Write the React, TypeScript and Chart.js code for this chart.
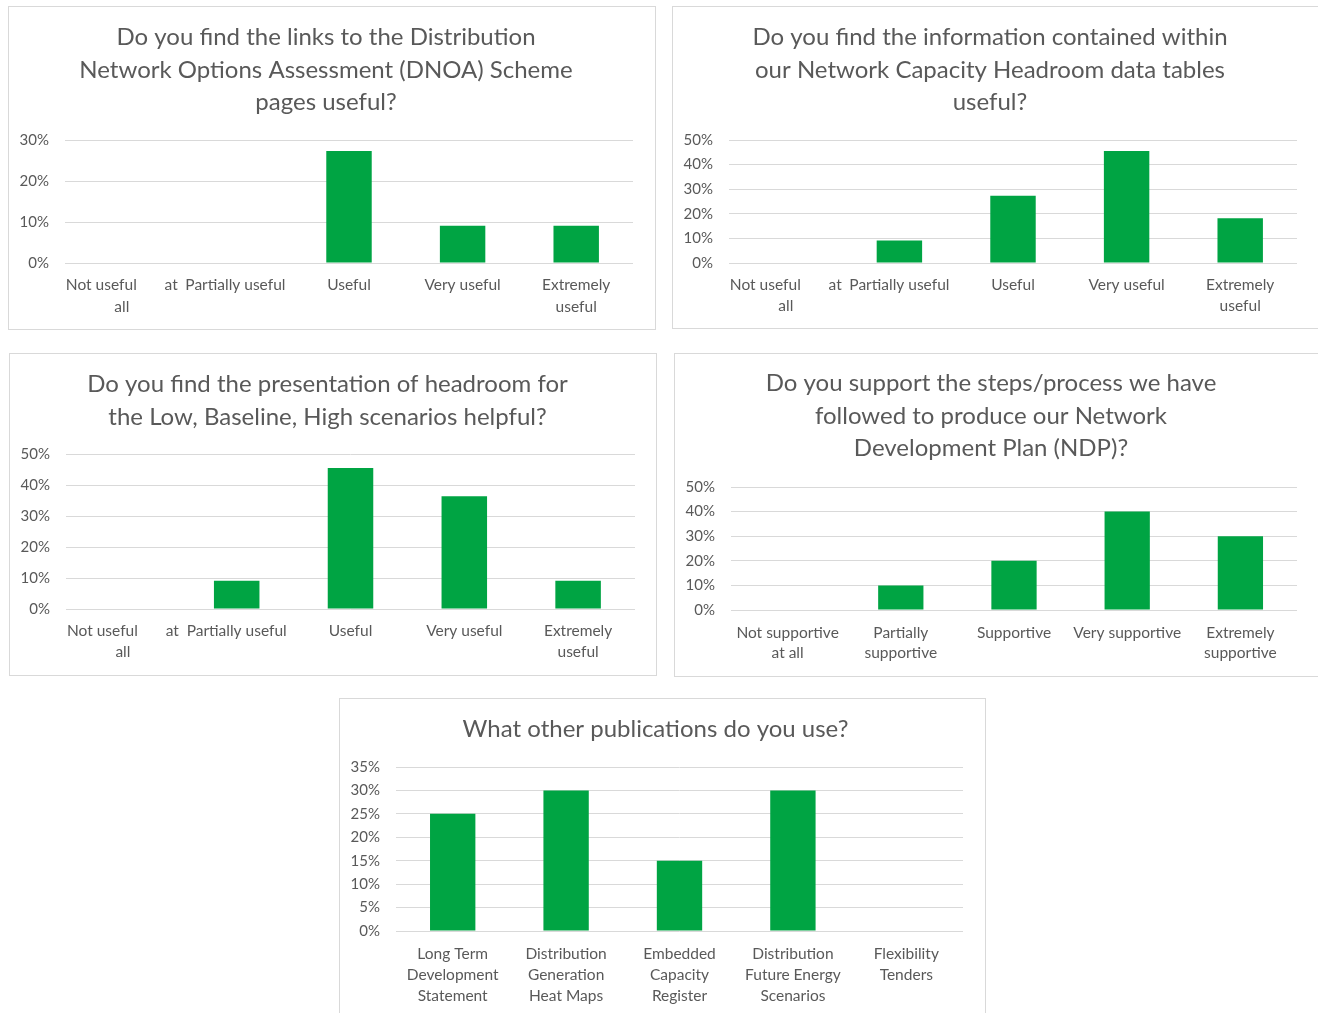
import React, { useEffect, useRef } from "react";
import { Chart, registerables } from "chart.js";

Chart.register(...registerables);

// ---------- data ----------
const usefulLabels: (string | string[])[] = [
  ["Not useful       at", "all"],
  "Partially useful",
  "Useful",
  "Very useful",
  ["Extremely", "useful"],
];
const supportLabels: (string | string[])[] = [
  ["Not supportive", "at all"],
  ["Partially", "supportive"],
  "Supportive",
  "Very supportive",
  ["Extremely", "supportive"],
];
const publicationLabels: (string | string[])[] = [
  ["Long Term", "Development", "Statement"],
  ["Distribution", "Generation", "Heat Maps"],
  ["Embedded", "Capacity", "Register"],
  ["Distribution", "Future Energy", "Scenarios"],
  ["Flexibility", "Tenders"],
];

const dnoaValues = [0, 0, 27.3, 9.1, 9.1];
const headroomTableValues = [0, 9.1, 27.3, 45.5, 18.2];
const scenarioValues = [0, 9.1, 45.5, 36.4, 9.1];
const ndpValues = [0, 10, 20, 40, 30];
const publicationValues = [25, 30, 15, 30, 0];

const dnoaTitle = [
  "Do you find the links to the Distribution",
  "Network Options Assessment (DNOA) Scheme",
  "pages useful?",
];
const headroomTableTitle = [
  "Do you find the information contained within",
  "our Network Capacity Headroom data tables",
  "useful?",
];
const scenarioTitle = [
  "Do you find the presentation of headroom for",
  "the Low, Baseline, High scenarios helpful?",
];
const ndpTitle = [
  "Do you support the steps/process we have",
  "followed to produce our Network",
  "Development Plan (NDP)?",
];
const publicationTitle = ["What other publications do you use?"];

// y-axis ranges (max, step) in %
const dnoaAxis = [30, 10];
const headroomTableAxis = [50, 10];
const scenarioAxis = [50, 10];
const ndpAxis = [50, 10];
const publicationAxis = [35, 5];

// ---------- styling ----------
const FONT = "Lato, 'Open Sans', sans-serif";
const TEXT = "#595959";
const GRID = "#d9d9d9";
const BAR = "#00A443";

type PanelProps = {
  left: number;
  top: number;
  width: number;
  height: number;
  title: string[];
  labels: (string | string[])[];
  values: number[];
  axis: number[];
  titleLH: number;
  titlePadTop: number;
  titlePadBottom: number;
  xHeight: number;
  xPad: number;
  xLH: number;
  rightPad: number;
  leftPad: number;
};

function Panel(p: PanelProps) {
  const ref = useRef<HTMLCanvasElement | null>(null);
  useEffect(() => {
    if (!ref.current) return;
    const titleSize = 24;
    const xSize = 15.5;
    const chart = new Chart(ref.current, {
      type: "bar",
      data: {
        labels: p.labels as any,
        datasets: [
          {
            data: p.values,
            backgroundColor: BAR,
            borderWidth: 0,
            barPercentage: 0.4,
            categoryPercentage: 1,
          },
        ],
      },
      options: {
        responsive: false,
        animation: false,
        layout: { padding: { left: p.leftPad, right: p.rightPad, top: 0, bottom: 0 } },
        plugins: {
          legend: { display: false },
          tooltip: { enabled: false },
          title: {
            display: true,
            text: p.title,
            color: TEXT,
            font: {
              family: FONT,
              size: titleSize,
              weight: "normal",
              lineHeight: p.titleLH / titleSize,
            },
            padding: { top: p.titlePadTop, bottom: p.titlePadBottom },
          },
        },
        scales: {
          x: {
            grid: { display: false, drawTicks: false },
            border: { display: false },
            ticks: {
              color: TEXT,
              font: { family: FONT, size: xSize, lineHeight: p.xLH / xSize },
              padding: p.xPad,
              maxRotation: 0,
              minRotation: 0,
              autoSkip: false,
            },
            afterFit: (s: any) => {
              s.height = p.xHeight;
            },
          },
          y: {
            min: 0,
            max: p.axis[0],
            grid: { color: GRID, lineWidth: 1, drawTicks: false },
            border: { display: false },
            ticks: {
              stepSize: p.axis[1],
              color: TEXT,
              font: { family: FONT, size: 15 },
              padding: 16,
              callback: (v: any) => v + "%",
            },
            afterFit: (s: any) => {
              s.width = 56 - p.leftPad;
            },
          },
        },
      },
    });
    return () => chart.destroy();
  }, []);

  return (
    <div
      style={{
        position: "absolute",
        left: p.left,
        top: p.top,
        width: p.width,
        height: p.height,
        border: "1px solid " + GRID,
        background: "#fff",
      }}
    >
      <canvas ref={ref} width={p.width} height={p.height} style={{ display: "block" }} />
    </div>
  );
}

export default function App() {
  return (
    <div
      style={{
        position: "absolute",
        left: 0,
        top: 0,
        width: 1318,
        height: 1013,
        overflow: "hidden",
        background: "#fff",
      }}
    >
      <Panel
        left={8}
        top={6}
        width={646}
        height={322}
        title={dnoaTitle}
        labels={usefulLabels}
        values={dnoaValues}
        axis={dnoaAxis}
        titleLH={32.5}
        titlePadTop={14.5}
        titlePadBottom={21}
        xHeight={66}
        xPad={11}
        xLH={22}
        rightPad={22}
        leftPad={10}
      />
      <Panel
        left={672}
        top={6}
        width={645}
        height={321}
        title={headroomTableTitle}
        labels={usefulLabels}
        values={headroomTableValues}
        axis={headroomTableAxis}
        titleLH={32.5}
        titlePadTop={14.5}
        titlePadBottom={21}
        xHeight={65}
        xPad={11}
        xLH={21}
        rightPad={21}
        leftPad={10}
      />
      <Panel
        left={9}
        top={353}
        width={646}
        height={321}
        title={scenarioTitle}
        labels={usefulLabels}
        values={scenarioValues}
        axis={scenarioAxis}
        titleLH={33}
        titlePadTop={13.5}
        titlePadBottom={20.5}
        xHeight={66}
        xPad={11}
        xLH={21}
        rightPad={21}
        leftPad={10}
      />
      <Panel
        left={674}
        top={353}
        width={643}
        height={322}
        title={ndpTitle}
        labels={supportLabels}
        values={ndpValues}
        axis={ndpAxis}
        titleLH={32.5}
        titlePadTop={13.5}
        titlePadBottom={22}
        xHeight={66}
        xPad={13}
        xLH={20}
        rightPad={21}
        leftPad={10}
      />
      <Panel
        left={339}
        top={698}
        width={645}
        height={330}
        title={publicationTitle}
        labels={publicationLabels}
        values={publicationValues}
        axis={publicationAxis}
        titleLH={32.5}
        titlePadTop={14.5}
        titlePadBottom={21}
        xHeight={98}
        xPad={12.5}
        xLH={21}
        rightPad={22}
        leftPad={8}
      />
    </div>
  );
}
